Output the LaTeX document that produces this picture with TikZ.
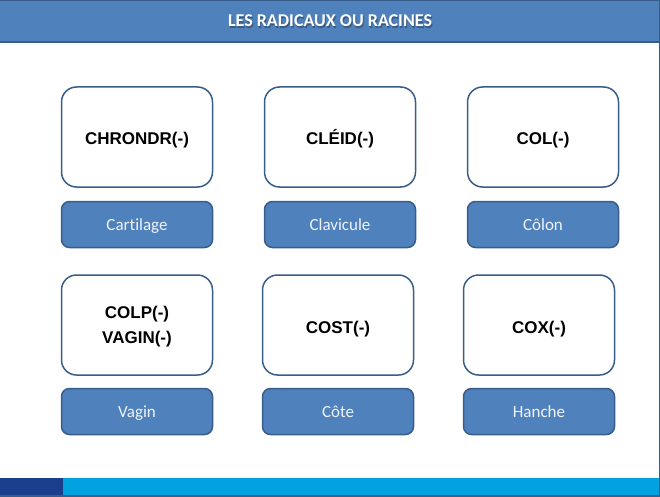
\documentclass[tikz,border=0pt]{standalone}
\usepackage{fontspec}
\setmainfont{Liberation Sans}
\newfontfamily\carlito[Ligatures=NoCommon]{Carlito}
\definecolor{entete}{HTML}{4F81BD}
\definecolor{bord}{HTML}{385D8A}
\definecolor{barfonce}{HTML}{1B3E8C}
\definecolor{barclair}{HTML}{00A3E0}
\definecolor{sensgris}{HTML}{F0F3F9}
\definecolor{ombre}{HTML}{2A3F5C}
\tikzset{
  racine/.style={draw=bord, line width=1.5pt, fill=white, rounded corners=15pt,
    minimum width=151pt, minimum height=100pt, align=center,
    text height=16pt, text depth=0pt,
    font=\fontsize{17}{20}\selectfont\bfseries},
  sens/.style={draw=bord, line width=1.5pt, fill=entete, rounded corners=8pt,
    minimum width=151pt, minimum height=46pt, text=sensgris,
    text height=11.6pt, text depth=0pt,
    font=\carlito\fontsize{17}{20}\selectfont},
  titre/.style={font=\carlito\bfseries\fontsize{18}{21}\selectfont},
}
\begin{document}
\begin{tikzpicture}[x=1pt, y=-1pt]
  \useasboundingbox (0,0) rectangle (660,497);
  % cadre et bandeaux
  \draw[bord, line width=1pt] (659,0) -- (659,497);
  \fill[entete] (0,0) rectangle (659,42);
  \draw[bord, line width=2pt] (0,42) -- (659,42);
  \draw[bord, line width=1pt] (0,0.5) -- (659,0.5);
  \fill[barfonce] (0,478) rectangle (63,495);
  \fill[barclair] (63,478) rectangle (659,495);
  \draw[bord, line width=1.5pt] (0,496) -- (660,496);
  \node[titre, text=ombre, opacity=0.6] at (331,22.2) {LES RADICAUX OU RACINES};
  \node[titre, text=white] (titre) at (330,21) {LES RADICAUX OU RACINES};

  % racines
  \node[racine] (chondr) at (137,137) {CHRONDR(-)};
  \node[racine] (cleid)  at (340,137) {CLÉID(-)};
  \node[racine] (col)    at (543,137) {COL(-)};
  \node[racine, text height={}, font=\fontsize{17}{24.5}\selectfont\bfseries]
    (colp) at (137,325) {COLP(-)\\VAGIN(-)};
  \node[racine] (cost)   at (338,325) {COST(-)};
  \node[racine] (cox)    at (539,325) {COX(-)};

  % sens
  \node[sens] (cartilage) at (137,224.5) {Cartilage};
  \node[sens] (clavicule) at (340,224.5) {Clavicule};
  \node[sens] (colon)     at (543,224.5) {Côlon};
  \node[sens] (vagin)     at (137,411.5) {Vagin};
  \node[sens] (cote)      at (338,411.5) {Côte};
  \node[sens] (hanche)    at (539,411.5) {Hanche};
\end{tikzpicture}
\end{document}
